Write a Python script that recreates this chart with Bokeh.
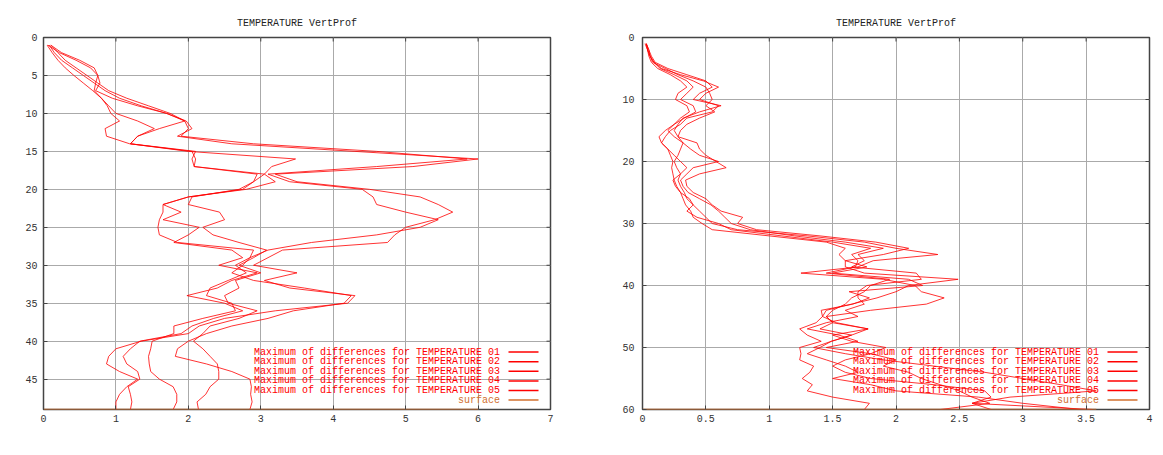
from bokeh.plotting import figure
from bokeh.layouts import row
from bokeh.models import Range1d, FixedTicker, CustomJSTickFormatter
from bokeh.core.properties import value
from bokeh.embed import file_html
from bokeh.resources import INLINE

# ---------------- data ----------------
TITLE = "TEMPERATURE VertProf"
LEGEND_NAMES = [
    "Maximum of differences for TEMPERATURE 01",
    "Maximum of differences for TEMPERATURE 02",
    "Maximum of differences for TEMPERATURE 03",
    "Maximum of differences for TEMPERATURE 04",
    "Maximum of differences for TEMPERATURE 05",
]
SURFACE_NAME = "surface"

# left panel: levels 1..49
LEFT_LEVELS = list(range(1, 50))
LEFT_SURFACE = 49
LEFT_X_TICKS = [0, 1, 2, 3, 4, 5, 6, 7]
LEFT_Y_TICKS = [0, 5, 10, 15, 20, 25, 30, 35, 40, 45]
LEFT_S1 = [0.08, 0.15, 0.25, 0.4, 0.55, 0.7, 0.85, 1.05, 1.35, 1.7,
           1.97, 2.05, 1.85, 2.6, 4.3, 6.0, 5.1, 3.2, 3.5, 4.5,
           5.2, 5.45, 5.65, 5.4, 5.0, 4.85, 4.75, 3.3, 3.1, 2.9,
           3.5, 3.05, 3.4, 4.3, 4.2, 3.2, 2.5, 2.15, 2.0, 1.35,
           1.0, 0.9, 0.87, 1.05, 1.3, 1.15, 1.05, 1.0, 1.0]
LEFT_S2 = [0.1, 0.2, 0.3, 0.45, 0.6, 0.75, 0.9, 1.15, 1.45, 1.75,
           1.95, 2.0, 1.9, 2.9, 4.6, 5.85, 4.6, 3.1, 3.4, 4.4,
           4.55, 4.6, 5.0, 5.45, 5.2, 4.6, 3.7, 3.1, 2.85, 2.75,
           2.6, 2.9, 3.6, 4.25, 4.15, 3.45, 3.1, 2.6, 2.25, 2.0,
           1.85, 1.82, 2.25, 2.6, 2.85, 2.87, 2.86, 2.88, 2.85]
LEFT_S3 = [0.06, 0.22, 0.45, 0.65, 0.75, 0.78, 0.72, 0.95, 1.3, 1.7,
           1.95, 1.6, 1.3, 1.2, 2.0, 3.48, 3.15, 3.05, 2.9, 2.75,
           2.0, 1.65, 1.9, 1.65, 2.15, 2.0, 1.8, 2.6, 2.75, 2.42,
           2.95, 2.6, 2.4, 1.98, 2.5, 2.75, 2.35, 2.05, 1.9, 1.33,
           1.2, 1.1, 1.15, 1.3, 1.33, 1.17, 1.2, 1.22, 1.2]
LEFT_S4 = [0.1, 0.25, 0.5, 0.7, 0.75, 0.72, 0.7, 0.8, 0.88, 0.93,
           1.05, 0.85, 0.87, 1.19, 2.05, 2.1, 2.08, 3.05, 3.2, 2.8,
           2.0, 1.65, 1.65, 1.6, 1.58, 1.6, 1.85, 2.9, 2.85, 2.65,
           2.8, 2.55, 2.3, 2.25, 2.6, 2.65, 2.2, 1.8, 1.8, 1.5,
           1.48, 1.45, 1.46, 1.48, 1.6, 1.79, 1.84, 1.84, 1.79]
LEFT_S5 = [0.05, 0.12, 0.2, 0.3, 0.42, 0.55, 0.68, 0.8, 0.9, 1.0,
           1.3, 1.53, 1.3, 1.2, 2.1, 2.05, 2.08, 2.95, 2.9, 2.7,
           2.05, 2.0, 2.43, 2.5, 2.2, 2.34, 2.7, 3.08, 2.9, 2.7,
           3.0, 2.65, 2.7, 2.5, 2.55, 2.95, 2.7, 2.3, 2.2, 2.07,
           2.2, 2.3, 2.4, 2.42, 2.42, 2.3, 2.24, 2.12, 2.14]

# right panel: levels 1..60
RIGHT_LEVELS = list(range(1, 61))
RIGHT_SURFACE = 60
RIGHT_X_TICKS = [0, 0.5, 1, 1.5, 2, 2.5, 3, 3.5, 4]
RIGHT_Y_TICKS = [0, 10, 20, 30, 40, 50, 60]
RIGHT_S1 = [0.03, 0.04, 0.06, 0.09, 0.15, 0.3, 0.48, 0.6, 0.5, 0.45,
            0.6, 0.55, 0.35, 0.3, 0.22, 0.18, 0.15, 0.2, 0.25, 0.3,
            0.35, 0.3, 0.28, 0.3, 0.33, 0.35, 0.4, 0.45, 0.5, 0.55,
            0.75, 1.3, 1.75, 2.0, 2.33, 1.82, 1.7, 1.25, 1.9, 2.15,
            2.2, 2.38, 2.24, 1.8, 1.45, 1.5, 1.78, 1.5, 1.65, 1.92,
            1.8, 1.6, 1.5, 1.6, 1.8, 2.3, 2.7, 2.75, 2.6, 2.75]
RIGHT_S2 = [0.03, 0.05, 0.07, 0.1, 0.2, 0.35, 0.5, 0.55, 0.45, 0.4,
            0.62, 0.45, 0.32, 0.28, 0.25, 0.28, 0.43, 0.45, 0.5, 0.58,
            0.66, 0.45, 0.34, 0.35, 0.4, 0.5, 0.55, 0.62, 0.79, 0.75,
            0.9, 1.4, 1.84, 2.1, 1.9, 1.6, 1.6, 1.75, 2.49, 2.1,
            2.0, 1.85, 1.65, 1.45, 1.42, 1.53, 1.78, 1.65, 1.49, 1.35,
            1.6, 1.9, 2.3, 2.7, 3.0, 3.3, 3.58, 2.9, 2.6, 3.55]
RIGHT_S3 = [0.03, 0.04, 0.05, 0.07, 0.12, 0.22, 0.3, 0.35, 0.28, 0.26,
            0.35, 0.37, 0.3, 0.25, 0.18, 0.13, 0.15, 0.2, 0.22, 0.24,
            0.23, 0.24, 0.25, 0.27, 0.3, 0.32, 0.34, 0.38, 0.4, 0.47,
            0.55, 1.0, 1.45, 1.6, 1.55, 1.6, 1.77, 1.5, 2.1, 2.21,
            1.63, 1.79, 1.66, 1.41, 1.42, 1.37, 1.24, 1.3, 1.41, 1.24,
            1.25, 1.24, 1.35, 1.32, 1.26, 1.34, 1.3, 1.5, 1.79, 1.75]
RIGHT_S4 = [0.02, 0.04, 0.06, 0.08, 0.18, 0.28, 0.4, 0.5, 0.53, 0.55,
            0.5, 0.57, 0.45, 0.35, 0.3, 0.28, 0.32, 0.38, 0.45, 0.6,
            0.4, 0.35, 0.3, 0.32, 0.36, 0.45, 0.54, 0.6, 0.65, 0.7,
            0.85, 1.2, 1.6, 1.9, 1.7, 1.75, 1.65, 2.16, 2.2, 1.77,
            1.7, 1.7, 1.75, 1.6, 1.7, 1.45, 1.3, 1.55, 1.7, 1.45,
            1.8, 2.0, 1.9, 2.1, 2.2, 2.35, 2.5, 2.6, 2.74, 2.35]
RIGHT_S5 = [0.03, 0.05, 0.06, 0.09, 0.14, 0.25, 0.35, 0.4, 0.35, 0.3,
            0.4, 0.42, 0.33, 0.25, 0.2, 0.25, 0.32, 0.3, 0.28, 0.25,
            0.27, 0.3, 0.24, 0.26, 0.3, 0.37, 0.4, 0.35, 0.43, 0.6,
            0.7, 1.1, 1.5, 1.8, 1.65, 1.7, 1.68, 1.45, 1.95, 1.8,
            1.75, 1.65, 1.6, 1.5, 1.45, 1.5, 1.4, 1.65, 1.49, 1.4,
            1.3, 1.45, 1.6, 1.7, 1.5, 1.8, 2.0, 2.65, 3.0, 3.45]

# ---------------- style ----------------
RED = "#ff0000"
ORANGE = "#d2702e"
FRAME = "#444444"
FONT = "Liberation Mono"
TOP, BOTTOM = 37, 38
FRAME_H = 372
H = TOP + FRAME_H + BOTTOM
FRAME_W = 507


def make_panel(series, levels, surface, x_ticks, y_ticks, b_left, b_right, y_standoff):
    x_max = x_ticks[-1]
    y_max = surface
    width = b_left + FRAME_W + b_right
    p = figure(width=width, height=H, output_backend="svg", toolbar_location=None,
               x_range=Range1d(0, x_max), y_range=Range1d(y_max, 0),
               min_border_left=b_left, min_border_right=b_right,
               min_border_top=TOP, min_border_bottom=BOTTOM,
               background_fill_color="white", border_fill_color="white")

    p.title.text = TITLE
    p.title.align = "center"
    p.title.text_font = FONT
    p.title.text_font_size = "10px"
    p.title.text_font_style = "normal"
    p.title.text_color = "#222222"
    p.title.standoff = 17

    p.outline_line_color = FRAME
    p.outline_line_width = 1.5

    p.xaxis.ticker = FixedTicker(ticks=x_ticks)
    p.yaxis.ticker = FixedTicker(ticks=y_ticks)
    p.xaxis.formatter = CustomJSTickFormatter(code="return tick.toString();")
    for ax in (p.xaxis, p.yaxis):
        ax.major_tick_in = 4
        ax.major_tick_out = 0
        ax.minor_tick_line_color = None
        ax.axis_line_color = None
        ax.major_tick_line_color = FRAME
        ax.major_label_text_font = FONT
        ax.major_label_text_font_size = "10px"
        ax.major_label_text_color = "#333333"
    p.xaxis.major_label_standoff = 5
    p.yaxis.major_label_standoff = y_standoff

    p.xgrid.grid_line_color = "#aaaaaa"
    p.ygrid.grid_line_color = "#aaaaaa"
    p.xgrid.grid_line_width = 1
    p.ygrid.grid_line_width = 1

    ux = FRAME_W / x_max
    uy = FRAME_H / y_max

    # mirrored inward ticks on the top and right edges (gnuplot border tics)
    p.segment(x0=x_ticks, y0=[0] * len(x_ticks), x1=x_ticks, y1=[4 / uy] * len(x_ticks),
              line_color=FRAME, line_width=1)
    p.segment(x0=[x_max] * len(y_ticks), y0=y_ticks, x1=[x_max - 4 / ux] * len(y_ticks), y1=y_ticks,
              line_color=FRAME, line_width=1)

    for s in series:
        p.line(s, levels, line_color=RED, line_width=1, line_alpha=0.8)

    s_max = max(max(s) for s in series)
    p.line([0, s_max], [surface, surface], line_color=ORANGE, line_width=1.5)

    # gnuplot-style key: label then sample line, bottom right inside frame
    names = LEGEND_NAMES + [SURFACE_NAME]
    colors = [RED] * len(LEGEND_NAMES) + [ORANGE]
    rows = [(FRAME_H - 57.4 + 9.6 * i) / uy for i in range(len(names))]
    tx = x_max - 50.5 / ux
    p.text(x=[tx] * len(names), y=rows, text=names, text_color=colors,
           text_font=value(FONT), text_font_size="10px",
           text_align="right", text_baseline="middle")
    p.segment(x0=[x_max - 42 / ux] * len(names), y0=rows,
              x1=[x_max - 12 / ux] * len(names), y1=rows,
              line_color=colors, line_width=1.5)
    return p


left = make_panel([LEFT_S1, LEFT_S2, LEFT_S3, LEFT_S4, LEFT_S5], LEFT_LEVELS, LEFT_SURFACE,
                  LEFT_X_TICKS, LEFT_Y_TICKS, 43, 27, 6)
right = make_panel([RIGHT_S1, RIGHT_S2, RIGHT_S3, RIGHT_S4, RIGHT_S5], RIGHT_LEVELS, RIGHT_SURFACE,
                   RIGHT_X_TICKS, RIGHT_Y_TICKS, 65, 6, 8)

layout = row(left, right, spacing=0)
open("out.html", "w").write(file_html(layout, INLINE))
